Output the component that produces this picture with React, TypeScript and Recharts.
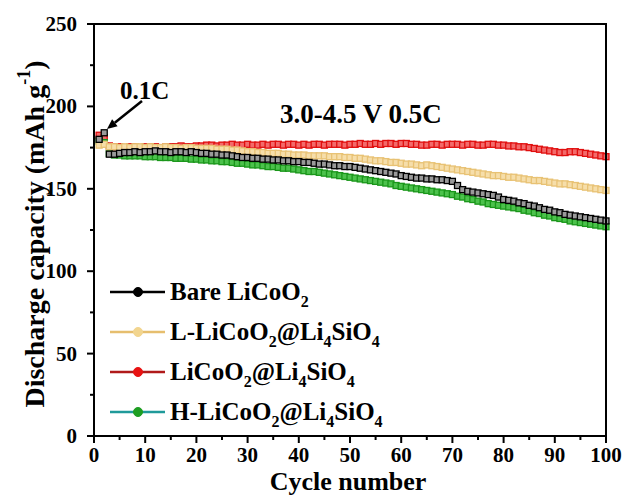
import React from "react";
import { LineChart, Line, XAxis, YAxis } from "recharts";

const cycles: number[] = Array.from({ length: 100 }, (_, i) => i + 1);

const bare: number[] = [
  180, 184, 171, 171, 171.5, 172, 172, 172.5, 172, 172.5,
  172.5, 173, 172.5, 172.5, 172, 172.5, 172.5, 172, 172.5, 172,
  171.5, 171.5, 171, 171, 170.5, 170.5, 170, 169.5, 169, 169,
  168.5, 168.5, 168, 168, 167.5, 167.5, 167, 167, 166.5, 166.5,
  166, 166, 165.5, 165, 165, 164.5, 164, 164, 163.5, 163.5,
  163, 162.5, 162, 161.5, 161, 160.5, 160, 159.5, 159, 158,
  157.5, 157, 156.5, 156.5, 156, 156, 155.5, 155.5, 155, 154.5,
  152, 149.5, 148.5, 148, 147.5, 147, 146.5, 146, 145, 143.5,
  143, 142.5, 141.5, 141, 140, 139.5, 138.5, 137.5, 137, 136,
  135.5, 134.5, 134, 133.5, 133, 132.5, 132, 131.5, 131, 130.5,
];

const lowCoat: number[] = [
  176.5, 177, 175.5,
  175.5, 175, 175.5, 175, 175.5, 175.5, 175, 175.5, 175, 175, 175.5,
  175, 175, 174.5, 175, 175, 174.5, 174.5, 174.5, 174.5, 174, 174,
  174, 173.5, 173.5, 173, 172.5, 172.5, 172, 172, 171.5, 171.5, 171.5, 171, 171, 170.5, 170.5,
  170.5, 170, 170, 170, 170, 169.5, 169.5, 169.5, 169, 169, 168.5, 168.5, 168, 167.5, 167,
  167, 166.5, 166, 166, 165.5, 165, 165, 164.5, 164, 164.5, 164, 163.5, 163, 162.5, 162,
  161.5, 161, 160.5, 160, 159.5, 159, 158.5, 158, 158, 157.5, 157, 157, 156.5, 156, 155.5,
  155, 155, 154.5, 154, 153.5, 153, 153, 152.5, 152, 151.5, 151, 150.5, 150, 149.5, 149,
];

const midCoat: number[] = [
  182.5, 181, 176,
  175.5, 175.5, 175, 175.5, 175.5, 175, 175.5, 175.5, 175.5, 175, 175.5, 175.5, 175.5, 176, 175.5, 175.5, 176,
  176, 176.5, 176.5, 176, 176.5, 176.5, 177, 176.5, 176.5, 177, 176.5, 176.5, 177, 176.5, 177, 177, 176.5, 177, 177, 176.5,
  177, 176.5, 177, 177, 176.5, 177, 177, 177, 176.5, 177, 177, 177.5, 177, 177, 177.5, 177, 177.5, 177.5, 177, 177.5,
  177.5, 177, 177, 176.5, 176.5, 177, 177, 176.5, 177, 177, 177, 176.5, 177, 177, 176.5, 176.5, 177, 177, 176.5, 176.5,
  176, 176, 175.5, 175.5, 175, 174.5, 174, 173.5, 173, 172.5, 172, 172, 172.5, 172.5, 172, 171.5, 171, 170.5, 170, 169.5,
];

const highCoat: number[] = [
  179, 178, 171.5,
  170.5, 170.5, 170, 170, 170, 170, 169.5, 169.5, 169.5, 169, 169, 169, 168.5, 168.5, 168.5, 168, 168,
  167.5, 167.5, 167, 167, 166.5, 166.5, 166, 165.5, 165.5, 165, 164.5, 164.5, 164, 163.5, 163.5, 163, 162.5, 162.5, 162, 161.5,
  161, 160.5, 160.5, 160, 159.5, 159, 158.5, 158, 157.5, 157, 156.5, 156, 155.5, 155, 154.5, 154, 153.5, 153, 152, 151.5,
  151, 150.5, 150, 149.5, 149, 148.5, 148, 147.5, 147, 146.5, 145.5, 145, 144, 143.5, 142.5, 142, 141, 140.5, 140, 139.5,
  139, 138.5, 138, 137, 136.5, 135.5, 135, 134, 133.5, 132.5, 132, 131.5, 130.5, 130, 129.5, 129, 128.5, 128, 127.5, 127,
];

const xTicks: number[] = [0, 5, 10, 15, 20, 25, 30, 35, 40, 45, 50, 55, 60, 65, 70, 75, 80, 85, 90, 95, 100];
const yTicks: number[] = [0, 25, 50, 75, 100, 125, 150, 175, 200, 225, 250];
const xMajor: number[] = [0, 10, 20, 30, 40, 50, 60, 70, 80, 90, 100];
const yMajor: number[] = [0, 50, 100, 150, 200, 250];

const data = cycles.map((c, i) => ({
  cycle: c,
  bare: bare[i],
  low: lowCoat[i],
  mid: midCoat[i],
  high: highCoat[i],
}));

const FONT = "'Liberation Serif', 'Times New Roman', serif";

// plot frame geometry (chart layout, not data)
const PLOT = { left: 94, top: 24, width: 512, height: 412 };

const XTick = (props: any) => {
  const { x, y, payload } = props;
  const major = xMajor.includes(payload.value);
  return (
    <g>
      <line x1={x} x2={x} y1={y} y2={y + (major ? 7 : 4)} stroke="#000" strokeWidth={2} />
      {major && (
        <text x={x} y={y + 26} textAnchor="middle" fontFamily={FONT} fontWeight="bold" fontSize={21} fill="#000">
          {payload.value}
        </text>
      )}
    </g>
  );
};

const YTick = (props: any) => {
  const { x, y, payload } = props;
  const major = yMajor.includes(payload.value);
  return (
    <g>
      <line x1={x} x2={x - (major ? 7 : 4)} y1={y} y2={y} stroke="#000" strokeWidth={2} />
      {major && (
        <text x={x - 17} y={y + 7} textAnchor="end" fontFamily={FONT} fontWeight="bold" fontSize={21} fill="#000">
          {payload.value}
        </text>
      )}
    </g>
  );
};

const makeDot = (stroke: string, fill: string) => (props: any) => {
  const { cx, cy, index } = props;
  if (cx == null || cy == null) return <g key={`e-${index}`} />;
  return (
    <rect key={`d-${index}`} x={cx - 3} y={cy - 3} width={6} height={6} fill={fill} stroke={stroke} strokeWidth={1.3} />
  );
};

const legendItems = [
  { line: "#000000", dot: "#000000", parts: [["Bare LiCoO", 0], ["2", 1]] },
  { line: "#E6BE6E", dot: "#F2D58F", parts: [["L-LiCoO", 0], ["2", 1], ["@Li", 0], ["4", 1], ["SiO", 0], ["4", 1]] },
  { line: "#B01A1A", dot: "#E81212", parts: [["LiCoO", 0], ["2", 1], ["@Li", 0], ["4", 1], ["SiO", 0], ["4", 1]] },
  { line: "#1F9A9A", dot: "#1E9E22", parts: [["H-LiCoO", 0], ["2", 1], ["@Li", 0], ["4", 1], ["SiO", 0], ["4", 1]] },
];

const renderParts = (parts: any[]) => {
  let prevSub = false;
  return parts.map((p, i) => {
    const sub = p[1] === 1;
    let dy = 0;
    if (sub && !prevSub) dy = 7;
    if (!sub && prevSub) dy = -7;
    prevSub = sub;
    return (
      <tspan key={i} dy={dy} fontSize={sub ? 16 : 25}>
        {p[0]}
      </tspan>
    );
  });
};

export default function App() {
  return (
    <div style={{ position: "absolute", left: 0, top: 0, width: 624, height: 495, background: "#fff" }}>
      <LineChart width={624} height={495} data={data} margin={{ top: 24, right: 18, bottom: 0, left: 0 }}>
        <XAxis
          dataKey="cycle"
          type="number"
          domain={[0, 100]}
          ticks={xTicks}
          interval={0}
          tick={<XTick />}
          tickLine={false}
          tickSize={0}
          tickMargin={0}
          height={59}
          axisLine={{ stroke: "#000", strokeWidth: 2 }}
        />
        <YAxis
          type="number"
          domain={[0, 250]}
          ticks={yTicks}
          interval={0}
          tick={<YTick />}
          tickLine={false}
          tickSize={0}
          tickMargin={0}
          width={94}
          axisLine={{ stroke: "#000", strokeWidth: 2 }}
        />
        <Line dataKey="mid" stroke="#D81010" strokeWidth={2} dot={makeDot("#E00E0E", "#F36A6A")} isAnimationActive={false} />
        <Line dataKey="high" stroke="#1E9A1E" strokeWidth={2} dot={makeDot("#1A961A", "#4CC24C")} isAnimationActive={false} />
        <Line dataKey="low" stroke="#E6BE6E" strokeWidth={2} dot={makeDot("#E8C274", "#F6DEAA")} isAnimationActive={false} />
        <Line dataKey="bare" stroke="#000" strokeWidth={2} dot={makeDot("#000", "#9A9A9A")} isAnimationActive={false} />
      </LineChart>
      <div
        style={{
          position: "absolute",
          left: PLOT.left - 1,
          top: PLOT.top - 1,
          width: PLOT.width,
          height: PLOT.height,
          borderTop: "2px solid #000",
          borderRight: "2px solid #000",
          pointerEvents: "none",
        }}
      />
      <svg width={624} height={495} style={{ position: "absolute", left: 0, top: 0, pointerEvents: "none" }}>
        <text
          transform="translate(34,234) rotate(-90)"
          textAnchor="middle"
          fontFamily={FONT}
          fontWeight="bold"
          fontSize={28}
          fill="#000"
          dominantBaseline="central"
        >
          Discharge capacity (mAh g
          <tspan dy={-10} fontSize={18}>-1</tspan>
          <tspan dy={10}>)</tspan>
        </text>
        <text x={348} y={490} textAnchor="middle" fontFamily={FONT} fontWeight="bold" fontSize={26} fill="#000">
          Cycle number
        </text>
        <text x={120} y={99} fontFamily={FONT} fontWeight="bold" fontSize={25} fill="#000">
          0.1C
        </text>
        <line x1={142} y1={101} x2={114.8} y2={122.8} stroke="#000" strokeWidth={2.5} />
        <polygon points="107,129 117.6,126.3 112.1,119.3" fill="#000" />
        <text x={280} y={123} fontFamily={FONT} fontWeight="bold" fontSize={27} fill="#000">
          3.0-4.5 V 0.5C
        </text>
        {legendItems.map((it, i) => {
          const cy = 292 + i * 40;
          return (
            <g key={i}>
              <line x1={110} x2={165} y1={cy} y2={cy} stroke={it.line} strokeWidth={2.5} />
              <circle cx={138} cy={cy} r={4.5} fill={it.dot} stroke={it.dot} />
              <text x={170} y={cy + 8} fontFamily={FONT} fontWeight="bold" fill="#000">
                {renderParts(it.parts)}
              </text>
            </g>
          );
        })}
      </svg>
    </div>
  );
}
